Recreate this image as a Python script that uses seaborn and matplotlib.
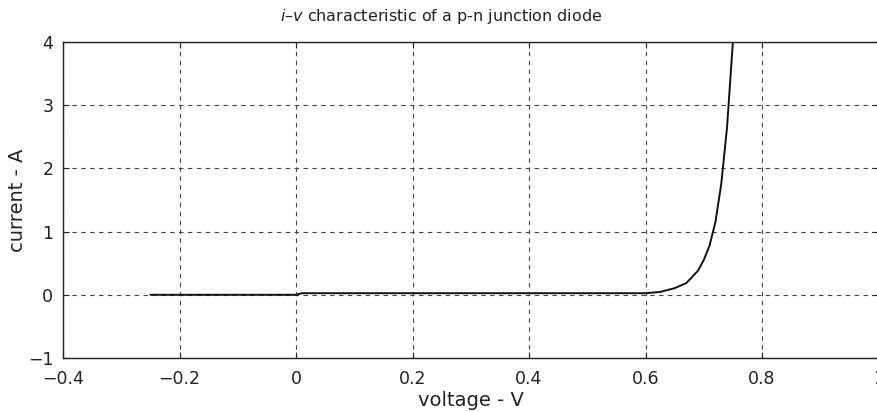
import numpy as np
import pandas as pd
import matplotlib
matplotlib.use("Agg")
import matplotlib.pyplot as plt
import seaborn as sns

# === data ===
voltage = [-0.25, 0.0, 0.01, 0.60, 0.625, 0.65, 0.67, 0.69, 0.70, 0.71, 0.72, 0.73, 0.74, 0.75, 0.76]
current = [0.0, 0.0, 0.025, 0.025, 0.045, 0.105, 0.185, 0.38, 0.55, 0.78, 1.15, 1.75, 2.65, 4.0, 6.0]
xticks = [-0.4, -0.2, 0, 0.2, 0.4, 0.6, 0.8, 1]
yticks = [-1, 0, 1, 2, 3, 4]

df = pd.DataFrame({"voltage": voltage, "current": current})

sns.set_theme(style="white")
plt.rcParams['font.family'] = ['DejaVu Sans']
plt.rcParams['mathtext.fontset'] = 'dejavusans'

fig = plt.figure(figsize=(8.78, 4.12), dpi=100)
ax = fig.add_axes([63 / 878, 54 / 412, 815.5 / 878, 316 / 412])

sns.lineplot(data=df, x="voltage", y="current", ax=ax, color="#111111",
             linewidth=1.4, estimator=None, sort=False)

ax.set_xlim(-0.4, 1)
ax.set_ylim(-1, 4)
ax.set_xticks(xticks)
ax.set_yticks(yticks)
ax.set_xticklabels(["\u22120.4", "\u22120.2", "0", "0.2", "0.4", "0.6", "0.8", "1"])
ax.set_yticklabels(["\u22121", "0", "1", "2", "3", "4"])
ax.tick_params(direction="in", length=4, width=0.8, colors="#222222",
               labelsize=12.5, top=True, right=True, bottom=True, left=True)
ax.tick_params(axis="x", pad=9, labeltop=False)
ax.tick_params(axis="y", pad=7, labelright=False)
ax.grid(True, color="#444444", linestyle=(0, (4, 4)), linewidth=0.8)
for s in ax.spines.values():
    s.set_color("#222222")
    s.set_linewidth(1.0)

ax.set_xlabel("voltage - V", fontsize=14, color="#222222")
ax.set_ylabel("current - A", fontsize=14, color="#222222")
ax.xaxis.label.set_va("center")
ax.yaxis.label.set_va("center")
ax.yaxis.label.set_ha("center")
ax.xaxis.set_label_coords(0.5, (358 - 400) / 316)
ax.yaxis.set_label_coords((18 - 63) / 815.5, 0.5)

fig.text(441 / 878, 1 - 16 / 412, r"$i$–$v$ characteristic of a p-n junction diode",
         ha="center", va="center", fontsize=11.5, color="#222222")

fig.savefig("out.png", dpi=100)
